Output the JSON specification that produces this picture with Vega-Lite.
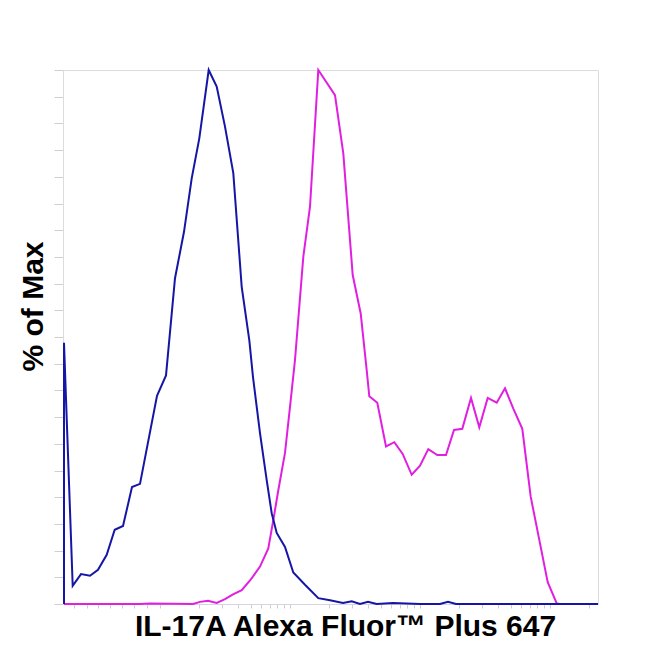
{
  "$schema": "https://vega.github.io/schema/vega-lite/v6.json",
  "width": 535,
  "height": 534,
  "autosize": "none",
  "padding": {"left": 63, "top": 70, "right": 52, "bottom": 46},
  "background": "white",
  "config": {"view": {"stroke": "#dcdcdc", "strokeWidth": 1}},
  "data": {"values": [
    {"series": "blue", "x": 1, "y": 0},
    {"series": "blue", "x": 1, "y": 48.9},
    {"series": "blue", "x": 9.7, "y": 3.4},
    {"series": "blue", "x": 18, "y": 5.6},
    {"series": "blue", "x": 27, "y": 5.3},
    {"series": "blue", "x": 35, "y": 6.4},
    {"series": "blue", "x": 43.7, "y": 9.2},
    {"series": "blue", "x": 51.7, "y": 13.9},
    {"series": "blue", "x": 60, "y": 14.6},
    {"series": "blue", "x": 69, "y": 21.9},
    {"series": "blue", "x": 77, "y": 22.5},
    {"series": "blue", "x": 94, "y": 39.0},
    {"series": "blue", "x": 103, "y": 42.8},
    {"series": "blue", "x": 112, "y": 61.0},
    {"series": "blue", "x": 121, "y": 69.7},
    {"series": "blue", "x": 128.7, "y": 79.7},
    {"series": "blue", "x": 136.3, "y": 87.2},
    {"series": "blue", "x": 145.7, "y": 100},
    {"series": "blue", "x": 153.7, "y": 96.9},
    {"series": "blue", "x": 162, "y": 89.4},
    {"series": "blue", "x": 170.3, "y": 80.7},
    {"series": "blue", "x": 178.7, "y": 59.4},
    {"series": "blue", "x": 186.3, "y": 49.4},
    {"series": "blue", "x": 190, "y": 42.5},
    {"series": "blue", "x": 197, "y": 32.0},
    {"series": "blue", "x": 203.7, "y": 23.2},
    {"series": "blue", "x": 208.7, "y": 17.0},
    {"series": "blue", "x": 213.7, "y": 13.3},
    {"series": "blue", "x": 222, "y": 10.7},
    {"series": "blue", "x": 230.3, "y": 5.9},
    {"series": "blue", "x": 242, "y": 3.6},
    {"series": "blue", "x": 255.3, "y": 1.1},
    {"series": "blue", "x": 267, "y": 0.7},
    {"series": "blue", "x": 280, "y": 0.2},
    {"series": "blue", "x": 288.7, "y": 0.5},
    {"series": "blue", "x": 297, "y": 0},
    {"series": "blue", "x": 305, "y": 0.4},
    {"series": "blue", "x": 313.7, "y": 0},
    {"series": "blue", "x": 330, "y": 0.2},
    {"series": "blue", "x": 357, "y": 0},
    {"series": "blue", "x": 377, "y": 0},
    {"series": "blue", "x": 385, "y": 0.4},
    {"series": "blue", "x": 393, "y": 0},
    {"series": "blue", "x": 535, "y": 0},
    {"series": "magenta", "x": 1, "y": 0},
    {"series": "magenta", "x": 77, "y": 0},
    {"series": "magenta", "x": 87, "y": 0.1},
    {"series": "magenta", "x": 130, "y": 0},
    {"series": "magenta", "x": 137, "y": 0.4},
    {"series": "magenta", "x": 145, "y": 0.6},
    {"series": "magenta", "x": 153.7, "y": 0.2},
    {"series": "magenta", "x": 162, "y": 0.9},
    {"series": "magenta", "x": 170, "y": 1.8},
    {"series": "magenta", "x": 178.7, "y": 2.6},
    {"series": "magenta", "x": 187, "y": 4.4},
    {"series": "magenta", "x": 197, "y": 7.0},
    {"series": "magenta", "x": 205.3, "y": 10.4},
    {"series": "magenta", "x": 210.3, "y": 15.7},
    {"series": "magenta", "x": 215.3, "y": 21.3},
    {"series": "magenta", "x": 222, "y": 28.3},
    {"series": "magenta", "x": 227, "y": 36.9},
    {"series": "magenta", "x": 232, "y": 45.7},
    {"series": "magenta", "x": 240.3, "y": 65.0},
    {"series": "magenta", "x": 247, "y": 74.4},
    {"series": "magenta", "x": 255.3, "y": 100},
    {"series": "magenta", "x": 272, "y": 95.3},
    {"series": "magenta", "x": 280.3, "y": 84.4},
    {"series": "magenta", "x": 289.7, "y": 61.6},
    {"series": "magenta", "x": 297.7, "y": 54.4},
    {"series": "magenta", "x": 303.7, "y": 43.8},
    {"series": "magenta", "x": 306.3, "y": 38.9},
    {"series": "magenta", "x": 314.3, "y": 37.7},
    {"series": "magenta", "x": 323, "y": 29.5},
    {"series": "magenta", "x": 331.3, "y": 30.3},
    {"series": "magenta", "x": 339.7, "y": 28.1},
    {"series": "magenta", "x": 348.7, "y": 24.2},
    {"series": "magenta", "x": 357, "y": 25.9},
    {"series": "magenta", "x": 365.3, "y": 29.0},
    {"series": "magenta", "x": 374.3, "y": 27.9},
    {"series": "magenta", "x": 383, "y": 27.9},
    {"series": "magenta", "x": 391, "y": 32.6},
    {"series": "magenta", "x": 399.3, "y": 32.8},
    {"series": "magenta", "x": 408, "y": 38.6},
    {"series": "magenta", "x": 416.3, "y": 33.1},
    {"series": "magenta", "x": 424.7, "y": 38.6},
    {"series": "magenta", "x": 433.7, "y": 37.7},
    {"series": "magenta", "x": 442, "y": 40.4},
    {"series": "magenta", "x": 450.3, "y": 36.6},
    {"series": "magenta", "x": 459.3, "y": 32.8},
    {"series": "magenta", "x": 467.7, "y": 20.1},
    {"series": "magenta", "x": 476.3, "y": 12.0},
    {"series": "magenta", "x": 484.7, "y": 4.1},
    {"series": "magenta", "x": 493.7, "y": 0.1},
    {"series": "magenta", "x": 497, "y": 0},
    {"series": "magenta", "x": 535, "y": 0}
  ]},
  "encoding": {
    "x": {
      "field": "x", "type": "quantitative",
      "scale": {"domain": [0, 535], "nice": false, "zero": false},
      "axis": {
        "title": "IL-17A Alexa Fluor™ Plus 647",
        "titleFont": "Liberation Sans", "titleFontSize": 30, "titleFontWeight": "bold", "titleColor": "black",
        "titleX": 282, "titleY": 22, "titleBaseline": "middle", "titleAnchor": "middle", "titleAlign": "center",
        "labels": false, "grid": false,
        "domainColor": "#d4d4e4", "tickColor": "#cfcfcf", "tickSize": 4,
        "values": [11,24,35,47,59,71,84,97,136,159,175,188,198,207,214,221,227,266,289,305,318,328,337,344,351,357,396,419,435,448,458,467,474,481,487,526]
      }
    },
    "y": {
      "field": "y", "type": "quantitative",
      "scale": {"domain": [0, 100], "nice": false},
      "axis": {
        "title": "% of Max",
        "titleFont": "Liberation Sans", "titleFontSize": 30, "titleFontWeight": "bold", "titleColor": "black",
        "titleAngle": -90, "titleX": -30, "titleY": 236, "titleBaseline": "middle", "titleAlign": "center",
        "labels": false, "grid": false,
        "domainColor": "#dcdcdc", "tickColor": "#cfcfcf", "tickSize": 9,
        "values": [0,5,10,15,20,25,30,35,40,45,50,55,60,65,70,75,80,85,90,95,100]
      }
    }
  },
  "layer": [
    {
      "transform": [{"filter": "datum.series === 'magenta'"}],
      "mark": {"type": "line", "color": "#e01fe0", "strokeWidth": 2}
    },
    {
      "transform": [{"filter": "datum.series === 'blue'"}],
      "mark": {"type": "line", "color": "#1616a6", "strokeWidth": 2}
    }
  ]
}
